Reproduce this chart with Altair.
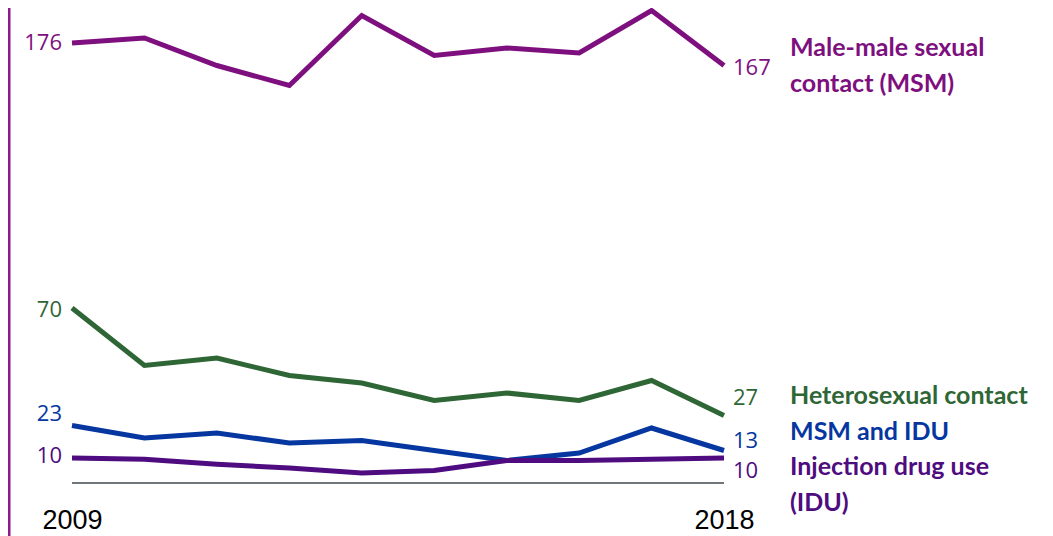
import altair as alt
import pandas as pd

years = [2009, 2010, 2011, 2012, 2013, 2014, 2015, 2016, 2017, 2018]
msm = [176, 178, 167, 159, 187, 171, 174, 172, 189, 167]
hetero = [70, 47, 50, 43, 40, 33, 36, 33, 41, 27]
msm_idu = [23, 18, 20, 16, 17, 13, 9, 12, 22, 13]
idu = [10, 9.5, 7.5, 6, 4, 5, 9, 9, 9.5, 10]

series_names = ["MSM", "Hetero", "MSM_IDU", "IDU"]
series_values = [msm, hetero, msm_idu, idu]
series_colors = ["#7E0F7E", "#2F6636", "#0636A0", "#4E0C80"]
series_labels = ["Male-male sexual\ncontact (MSM)", "Heterosexual contact", "MSM and IDU",
                 "Injection drug use\n(IDU)"]
label_values = [167, 35, 20.4, -0.8]

rows = []
for name, vals in zip(series_names, series_values):
    for yr, v in zip(years, vals):
        rows.append({"year": yr, "value": v, "series": name})
df = pd.DataFrame(rows)

W, H = 1037, 497
xs = alt.Scale(domain=[2009, 2018], range=[64, 716])
ys = alt.Scale(domain=[0, 176], range=[475, 35])

base_df = pd.DataFrame({"year": [years[0]], "year2": [years[-1]], "value": [0]})
baseline = alt.Chart(base_df).mark_rule(color="#6E757B", strokeWidth=2).encode(
    x=alt.X("year:Q", scale=xs,
            axis=alt.Axis(values=[2009, 2018], format="d", title=None, grid=False,
                          domain=False, ticks=False, labelFontSize=27, labelColor="#000000",
                          labelFont="Liberation Sans", labelPadding=2, labelFlush=False,
                          labelOverlap=False)),
    x2="year2:Q",
    y=alt.Y("value:Q", scale=ys, axis=None),
)

border = alt.Chart(base_df).mark_rule(color="#8E1A8E", strokeWidth=3).encode(
    x=alt.value(1), y=alt.value(-10), y2=alt.value(H + 40)
)

lines = alt.Chart(df).mark_line(strokeWidth=5, strokeJoin="miter").encode(
    x=alt.X("year:Q", scale=xs),
    y=alt.Y("value:Q", scale=ys),
    color=alt.Color("series:N", scale=alt.Scale(domain=series_names, range=series_colors),
                    legend=None),
)

layers = [baseline, border, lines]

left_dy = [0, 2, -12, -2]
right_dy = [2, -18, -10, 13]
for name, vals, col, ldy, rdy in zip(series_names, series_values, series_colors, left_dy, right_dy):
    first = pd.DataFrame({"year": [years[0]], "value": [vals[0]], "t": [str(int(vals[0]))]})
    last = pd.DataFrame({"year": [years[-1]], "value": [vals[-1]], "t": [str(int(vals[-1]))]})
    layers.append(alt.Chart(first).mark_text(align="right", baseline="middle", dx=-10, dy=ldy,
                                             fontSize=22, font="Open Sans", color=col).encode(
        x=alt.X("year:Q", scale=xs), y=alt.Y("value:Q", scale=ys), text="t:N"))
    layers.append(alt.Chart(last).mark_text(align="left", baseline="middle", dx=9, dy=rdy,
                                            fontSize=22, font="Open Sans", color=col).encode(
        x=alt.X("year:Q", scale=xs), y=alt.Y("value:Q", scale=ys), text="t:N"))

for lab, lv, col in zip(series_labels, label_values, series_colors):
    ldf = pd.DataFrame({"year": [years[-1]], "value": [lv], "t": [lab]})
    nlines = lab.count("\n") + 1
    layers.append(alt.Chart(ldf).mark_text(align="left", baseline="middle", dx=66,
                                           dy=-18 * (nlines - 1),
                                           fontSize=25, fontWeight="bold",
                                           font="Lato", lineBreak="\n",
                                           lineHeight=36, color=col).encode(
        x=alt.X("year:Q", scale=xs), y=alt.Y("value:Q", scale=ys), text="t:N"))

chart = alt.layer(*layers).properties(
    width=W, height=H, autosize=alt.AutoSizeParams(type="none"),
    padding={"left": 0, "top": 0, "right": 0, "bottom": 31}
).configure_view(stroke=None)

chart.save("out.html", embed_options={"renderer": "svg", "actions": False})
